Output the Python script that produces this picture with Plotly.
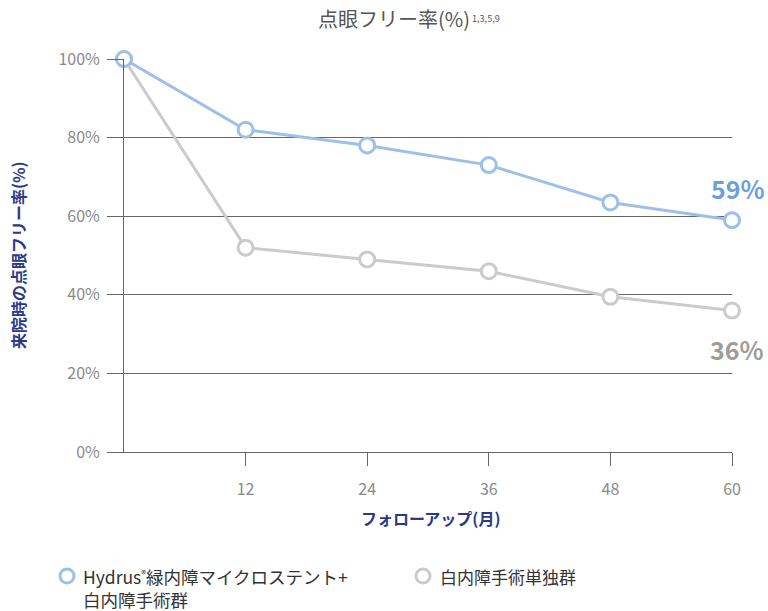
import plotly.graph_objects as go

# Follow-up months and eye-drop-free rates (%)
months = [0, 12, 24, 36, 48, 60]
hydrus_rate = [100, 82, 78, 73, 63.5, 59]
cataract_rate = [100, 52, 49, 46, 39.5, 36]
x_ticks = [12, 24, 36, 48, 60]
y_ticks = [0, 20, 40, 60, 80, 100]
y_tick_text = ["0%", "20%", "40%", "60%", "80%", "100%"]

BLUE = "#9dc0ea"
GRAY = "#cbcbcb"
NAVY = "#2b3a86"
FONT = "Noto Sans CJK JP"

fig = go.Figure()

for vals, col in [(cataract_rate, GRAY), (hydrus_rate, BLUE)]:
    fig.add_trace(go.Scatter(
        x=months, y=vals, mode="lines+markers",
        line=dict(color=col, width=3),
        marker=dict(symbol="circle", size=15, color="white",
                    line=dict(color=col, width=3)),
        cliponaxis=False, showlegend=False, hoverinfo="skip"))

# End-value labels
fig.add_annotation(x=months[-1], y=hydrus_rate[-1], text="<b>59%</b>",
                   showarrow=False, xanchor="center", yanchor="bottom",
                   xshift=6, yshift=12,
                   font=dict(family=FONT, size=25, color="#6e9fdd"))
fig.add_annotation(x=months[-1], y=cataract_rate[-1], text="<b>36%</b>",
                   showarrow=False, xanchor="center", yanchor="top",
                   xshift=5, yshift=-18,
                   font=dict(family=FONT, size=25, color="#9d9d9b"))


def px_x(px):
    return (px - 124) / 608


def px_y(py):
    return (452 - py) / 393


# Chart title
fig.add_annotation(xref="paper", yref="paper", x=px_x(316), y=px_y(18),
                   text="点眼フリー率(%)<span style='font-size:13px'><sup> 1,3,5,9</sup></span>",
                   showarrow=False, xanchor="left", yanchor="middle",
                   font=dict(family=FONT, size=20, color="#555555"))

# Axis titles
fig.add_annotation(xref="paper", yref="paper", x=px_x(430), y=px_y(518),
                   text="<b>フォローアップ(月)</b>", showarrow=False,
                   xanchor="center", yanchor="middle",
                   font=dict(family=FONT, size=16, color=NAVY))
fig.add_annotation(xref="paper", yref="paper", x=px_x(18), y=px_y(255),
                   text="<b>来院時の点眼フリー率(%)</b>", showarrow=False, textangle=-90,
                   xanchor="center", yanchor="middle",
                   font=dict(family=FONT, size=16, color=NAVY))

# Legend
for cx, cy, col in [(67, 576, BLUE), (423, 576, GRAY)]:
    fig.add_shape(type="circle", xref="paper", yref="paper",
                  xsizemode="pixel", ysizemode="pixel",
                  xanchor=px_x(cx), yanchor=px_y(cy),
                  x0=-7, x1=7, y0=-7, y1=7,
                  line=dict(color=col, width=3), fillcolor="white")

fig.add_annotation(xref="paper", yref="paper", x=px_x(81), y=px_y(562),
                   text="Hydrus<span style='font-size:14px'><sup>®</sup></span>緑内障マイクロステント+<br>白内障手術群",
                   showarrow=False, xanchor="left", yanchor="top", align="left",
                   font=dict(family=FONT, size=17.5, color="#333333"))
fig.add_annotation(xref="paper", yref="paper", x=px_x(438), y=px_y(576),
                   text="白内障手術単独群", showarrow=False,
                   xanchor="left", yanchor="middle",
                   font=dict(family=FONT, size=17, color="#333333"))

fig.update_xaxes(range=[0, 60], tickvals=x_ticks, ticks="outside", ticklen=13,
                 tickcolor="#666666", tickwidth=1, showgrid=False, zeroline=False,
                 showline=True, linecolor="#666666", linewidth=1,
                 ticklabelstandoff=10,
                 tickfont=dict(family=FONT, size=16, color="#8a8a8a"))
fig.update_yaxes(range=[0, 100], tickvals=y_ticks, ticktext=y_tick_text,
                 ticks="outside", ticklen=16, tickcolor="#666666", tickwidth=1,
                 showgrid=True, gridcolor="#666666", gridwidth=1, zeroline=False,
                 showline=True, linecolor="#666666", linewidth=1,
                 ticklabelstandoff=4,
                 tickfont=dict(family=FONT, size=16, color="#8a8a8a"))

fig.update_layout(width=768, height=611,
                  margin=dict(l=124, r=36, t=59, b=159),
                  plot_bgcolor="white", paper_bgcolor="white",
                  showlegend=False)

fig.write_html("out.html")
